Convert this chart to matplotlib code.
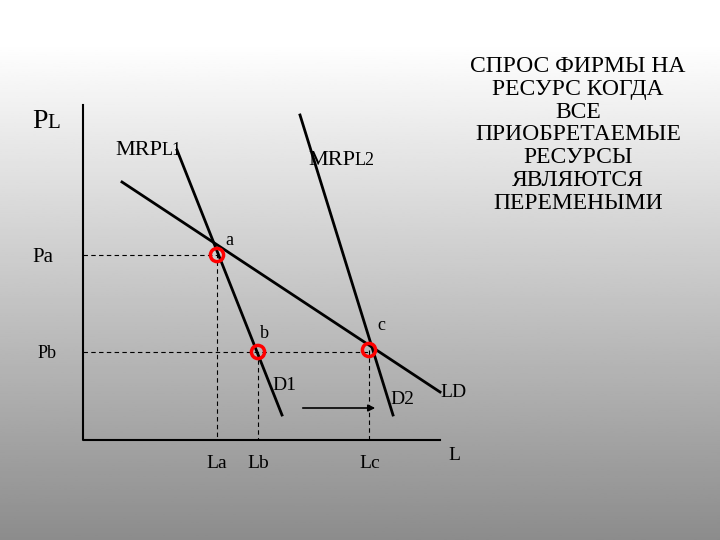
import numpy as np
import matplotlib.pyplot as plt

# diagram geometry in picture units (x right, y down)
mrp1_x = [177, 282]
mrp1_y = [150, 415]
mrp2_x = [300, 393]
mrp2_y = [115, 415]
ld_x = [122, 440]
ld_y = [182, 392]
points_x = [217, 258, 369]
points_y = [255, 352, 350]
point_names = ['a', 'b', 'c']
tick_x = [217, 258, 370]
tick_names = ['La', 'Lb', 'Lc']
title = 'СПРОС ФИРМЫ НА\nРЕСУРС КОГДА\nВСЕ\nПРИОБРЕТАЕМЫЕ\nРЕСУРСЫ\nЯВЛЯЮТСЯ\nПЕРЕМЕНЫМИ'

fig = plt.figure(figsize=(7.2, 5.4), dpi=100)
ax = fig.add_axes([0, 0, 1, 1])
ax.set_xlim(0, 720)
ax.set_ylim(540, 0)
ax.axis('off')

grad = np.concatenate([np.ones(20), np.linspace(1.0, 0.55, 236)])[:, None]
ax.imshow(grad, extent=[0, 720, 540, 0], cmap='gray', vmin=0, vmax=1, aspect='auto', zorder=0)

serif = 'Liberation Serif'
ax.plot([83, 83, 440], [105, 440, 440], color='black', lw=1.5)
ax.plot(mrp1_x, mrp1_y, color='black', lw=2)
ax.plot(mrp2_x, mrp2_y, color='black', lw=2)
ax.plot(ld_x, ld_y, color='black', lw=2)

dash = dict(color='black', lw=0.8, ls=(0, (4, 3)))
ax.plot([83, points_x[0], points_x[0]], [points_y[0], points_y[0], 440], **dash)
ax.plot([83, points_x[2]], [points_y[1], points_y[1]], **dash)
ax.plot([points_x[1], points_x[1]], [points_y[1], 440], **dash)
ax.plot([points_x[2], points_x[2]], [points_y[2], 440], **dash)

ax.scatter(points_x, points_y, s=90, facecolors='none', edgecolors='red', linewidths=2.5, zorder=5)
offs = [(8, -10), (2, -14), (8, -20)]
for px, py, n, (dx, dy) in zip(points_x, points_y, point_names, offs):
    ax.text(px + dx, py + dy, n, fontsize=13, family=serif)

for tx, tn in zip(tick_x, tick_names):
    ax.text(tx, 468, tn, fontsize=14, family=serif, ha='center')

ax.annotate('', xy=(378, 408), xytext=(300, 408),
            arrowprops=dict(arrowstyle='-|>', color='black', lw=1.2))

ax.text(32, 128, 'P', fontsize=20, family=serif)
ax.text(47, 128, 'L', fontsize=15, family=serif)
ax.text(115, 155, 'MRP', fontsize=16, family=serif)
ax.text(162, 155, 'L1', fontsize=13, family=serif)
ax.text(308, 165, 'MRP', fontsize=16, family=serif)
ax.text(355, 165, 'L2', fontsize=13, family=serif)
ax.text(32, 262, 'Pa', fontsize=15, family=serif)
ax.text(38, 358, 'Pb', fontsize=13, family=serif)
ax.text(272, 390, 'D1', fontsize=14, family=serif)
ax.text(390, 404, 'D2', fontsize=14, family=serif)
ax.text(440, 397, 'LD', fontsize=14, family=serif)
ax.text(448, 460, 'L', fontsize=14, family=serif)
ax.text(578, 135, title, fontsize=17, family=serif, ha='center', va='center', linespacing=1.12)

fig.savefig('out.png', dpi=100)
